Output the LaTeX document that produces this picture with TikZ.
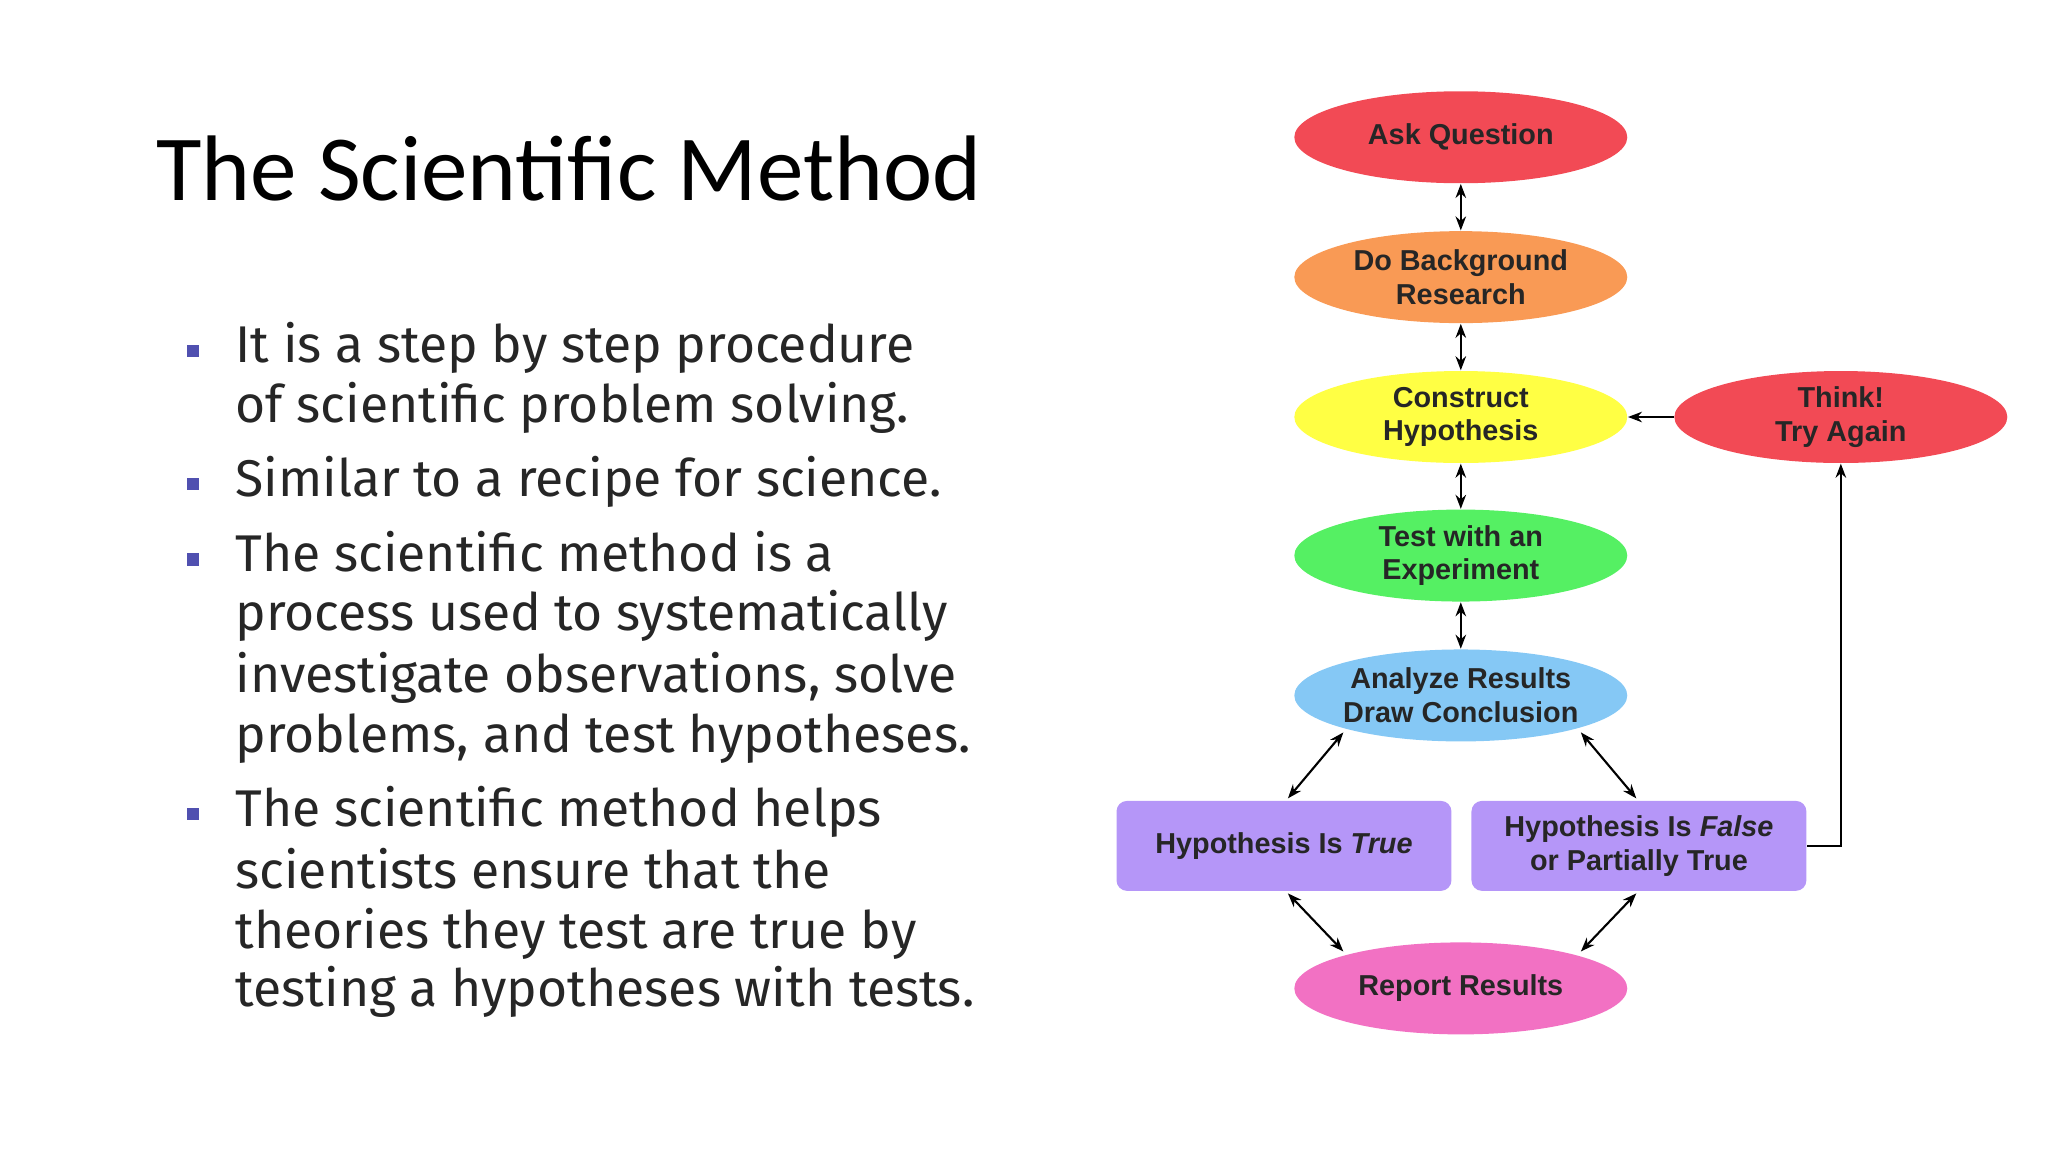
\documentclass[tikz,border=0pt]{standalone}
\usepackage{fontspec}
\setmainfont{Carlito}
\newfontfamily\bodyf{Fira Sans}
\newfontfamily\arialf{Liberation Sans}
\usetikzlibrary{shapes.geometric,arrows.meta}
\definecolor{cred}{HTML}{F24A55}
\definecolor{corange}{HTML}{F99A55}
\definecolor{cyellow}{HTML}{FFFF44}
\definecolor{cgreen}{HTML}{55F063}
\definecolor{cblue}{HTML}{85C8F5}
\definecolor{cpurple}{HTML}{B596F8}
\definecolor{cpink}{HTML}{F271C3}
\definecolor{bul}{HTML}{5050B0}
\begin{document}
\begin{tikzpicture}[x=0.013196cm,y=-0.013196cm,
  ell/.style={ellipse,minimum width=3.33cm,minimum height=0.92cm,inner sep=0pt,
    font=\arialf\bfseries\fontsize{8.2}{9.6}\selectfont,align=center,text=black!85},
  box/.style={rectangle,rounded corners=3pt,minimum width=3.35cm,minimum height=0.9cm,inner sep=0pt,
    font=\arialf\bfseries\fontsize{8.2}{9.6}\selectfont,align=center,fill=cpurple,text=black!85},
  con/.style={{Stealth[length=4pt,width=3pt]}-{Stealth[length=4pt,width=3pt]},line width=0.6pt},
  one/.style={-{Stealth[length=4pt,width=3pt]},line width=0.6pt},
  bl/.style={anchor=base west,inner sep=0pt,font=\bodyf\fontsize{14.7}{18}\selectfont,text=black!85},
  sq/.style={fill=bul,minimum size=3.5pt,inner sep=0pt}]
\useasboundingbox (0,0) rectangle (1552,873);
\node[anchor=base west,inner sep=0pt,font=\fontsize{26.5}{32}\selectfont] (title) at (118,152) {The Scientific Method};
% bullets
\node[bl] (l1) at (178,275) {It is a step by step procedure};
\node[bl] (l2) at (178,320) {of scientific problem solving.};
\node[bl] (l3) at (178,376) {Similar to a recipe for science.};
\node[bl] (l4) at (178,433) {The scientific method is a};
\node[bl] (l5) at (178,478) {process used to systematically};
\node[bl] (l6) at (178,525) {investigate observations, solve};
\node[bl] (l7) at (178,570) {problems, and test hypotheses.};
\node[bl] (l8) at (178,626) {The scientific method helps};
\node[bl] (l9) at (178,673) {scientists ensure that the};
\node[bl] (l10) at (178,719) {theories they test are true by};
\node[bl] (l11) at (178,763) {testing a hypotheses with tests.};
\node[sq] (b1) at (146,266) {};
\node[sq] (b2) at (146,367) {};
\node[sq] (b3) at (146,424) {};
\node[sq] (b4) at (146,617) {};
% flowchart
\node[ell,fill=cred] (ask) at (1107,104) {Ask Question};
\node[ell,fill=corange] (bg) at (1107,210) {Do Background\\Research};
\node[ell,fill=cyellow] (hyp) at (1107,316) {Construct\\Hypothesis};
\node[ell,fill=cgreen] (test) at (1107,421) {Test with an\\Experiment};
\node[ell,fill=cblue] (an) at (1107,527) {Analyze Results\\Draw Conclusion};
\node[ell,fill=cred] (think) at (1395,316) {Think!\\Try Again};
\node[box] (tru) at (973,641) {Hypothesis Is \textit{True}};
\node[box] (fal) at (1242,641) {Hypothesis Is \textit{False}\\or Partially True};
\node[ell,fill=cpink] (rep) at (1107,749) {Report Results};
\draw[con] (ask) -- (bg);
\draw[con] (bg) -- (hyp);
\draw[con] (hyp) -- (test);
\draw[con] (test) -- (an);
\draw[con] (1018,555) -- (976,605);
\draw[con] (1198,555) -- (1240,605);
\draw[con] (976,677) -- (1018,721);
\draw[con] (1240,677) -- (1198,721);
\draw[one] (think) -- (hyp);
\draw[one] (fal.east) -- (1395,641) -- (think.south);
\end{tikzpicture}
\end{document}
